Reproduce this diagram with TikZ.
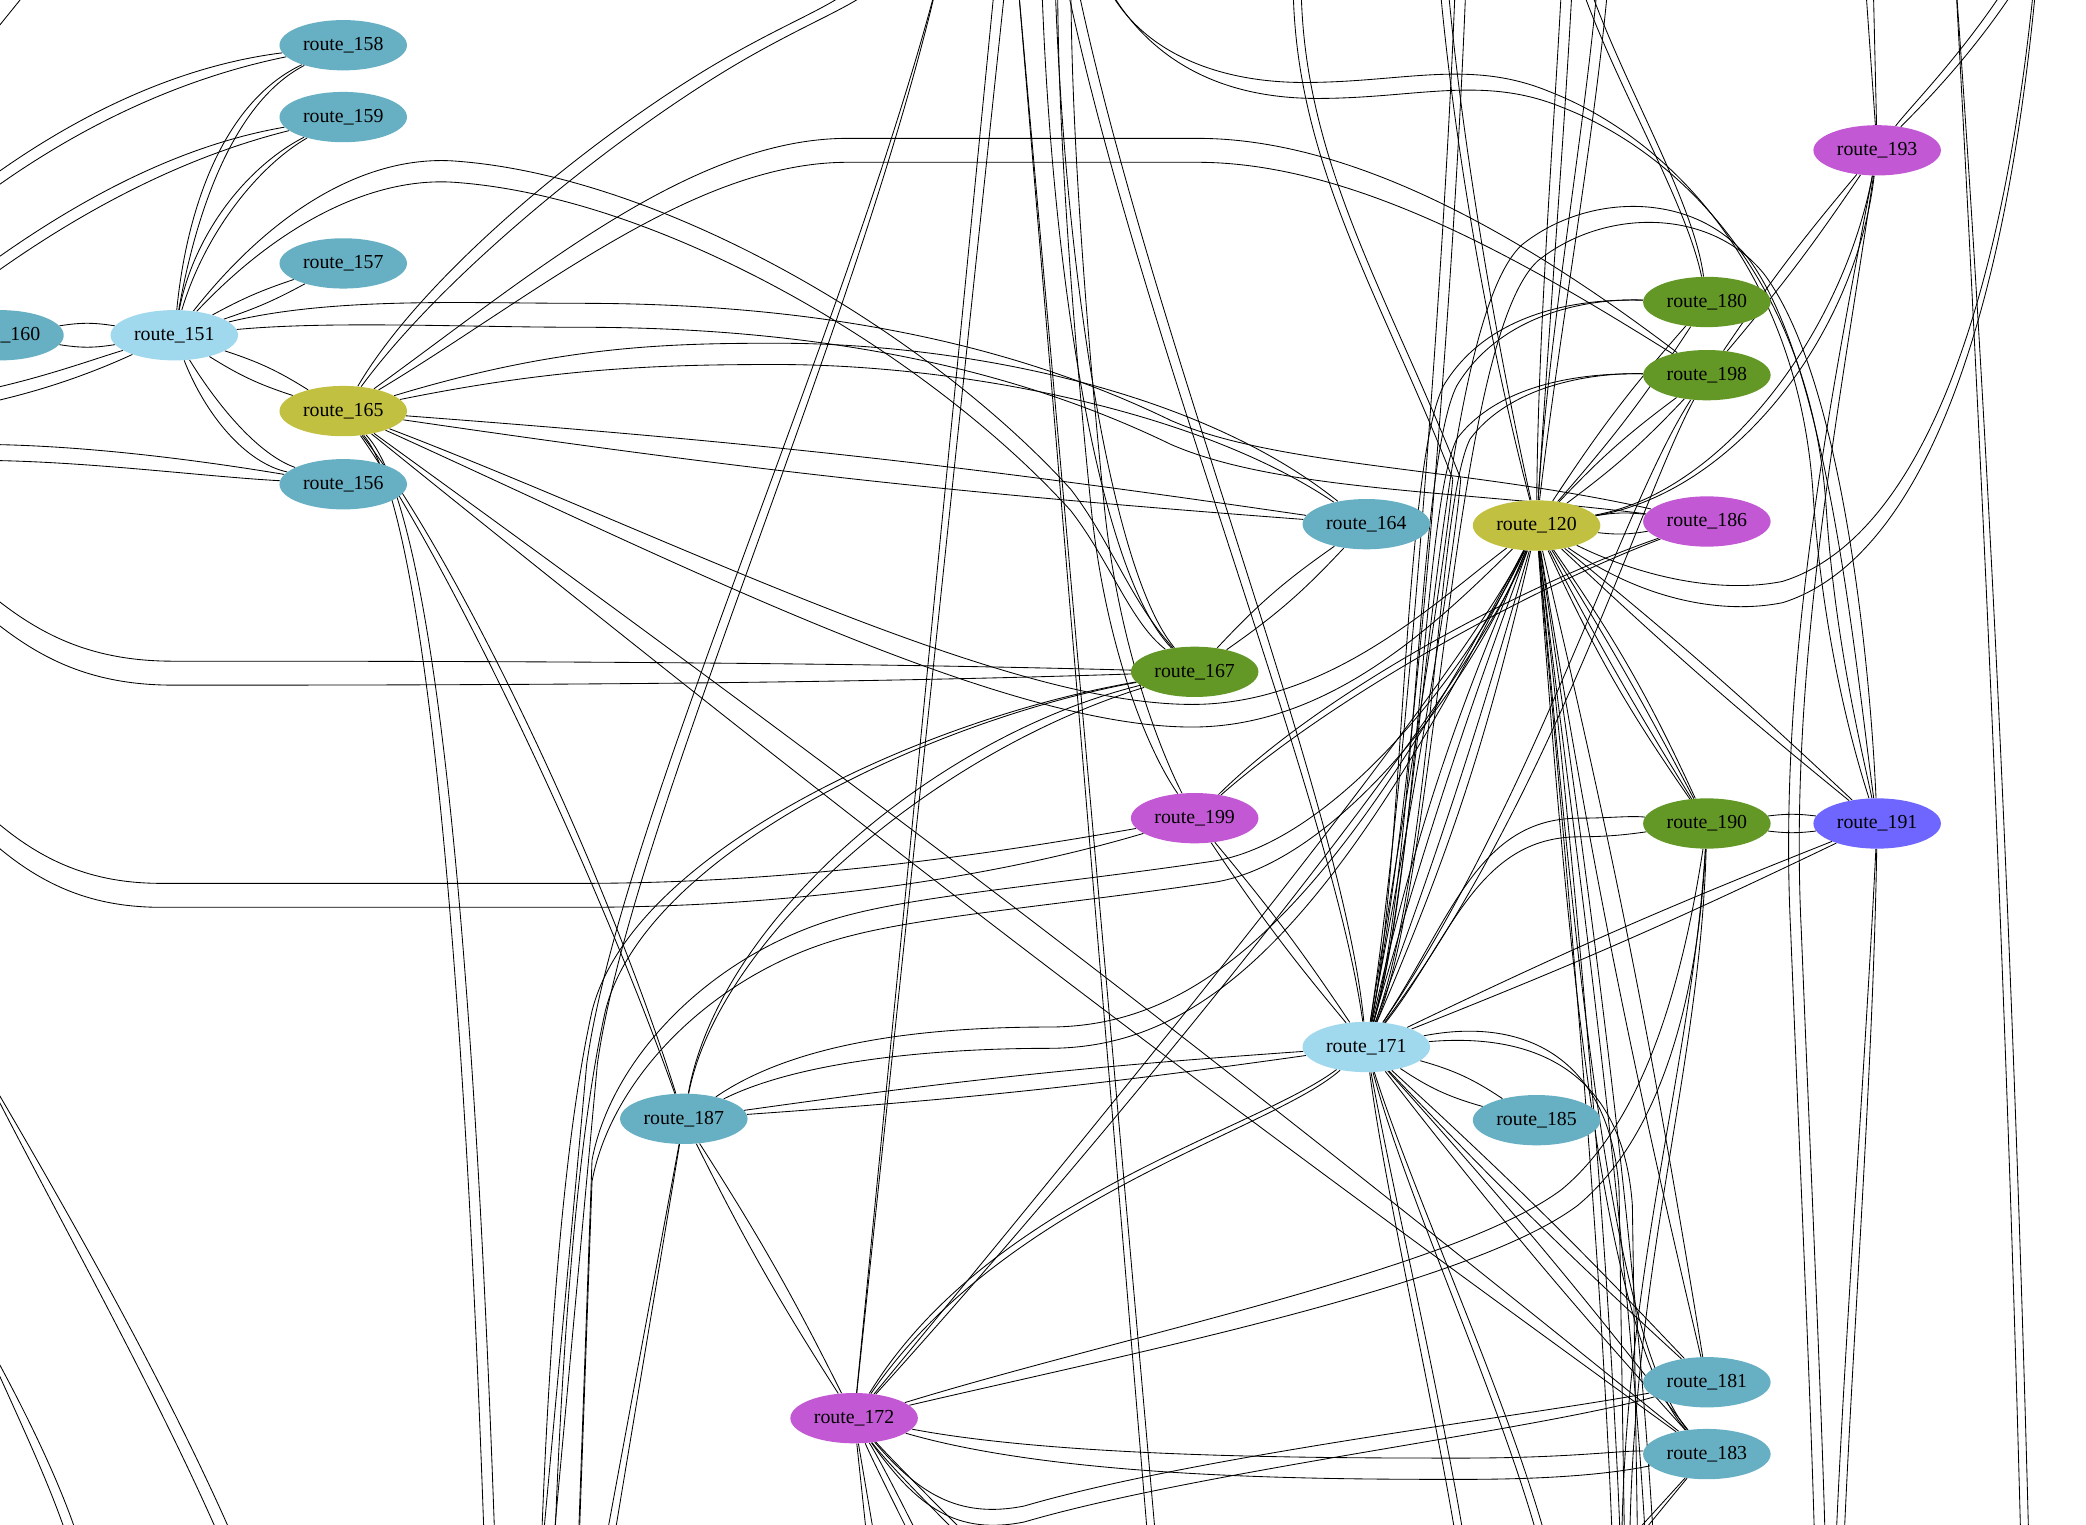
\documentclass[tikz,border=0pt]{standalone}
\usepackage{fontspec}
\setmainfont{Liberation Serif}
\usetikzlibrary{shapes.geometric,calc}
\definecolor{cteal}{RGB}{103,176,196}
\definecolor{clblue}{RGB}{160,216,238}
\definecolor{colive}{RGB}{193,192,64}
\definecolor{cgreen}{RGB}{99,152,38}
\definecolor{cmag}{RGB}{194,88,212}
\definecolor{cviol}{RGB}{110,102,255}
\pgfdeclarelayer{bg}
\pgfsetlayers{bg,main}
\newcommand\PairB[3]{\draw[ed] (#1) to[bend left=#3] (#2); \draw[ed] (#1) to[bend right=#3] (#2);}
\newcommand\PairT[3]{%
 \tikzset{oo/.style={shift={(#1,#2)}}}\draw[ed] #3;%
 \tikzset{oo/.style={shift={({-1*(#1)},{-1*(#2)})}}}\draw[ed] #3;}
\begin{document}
\begin{tikzpicture}[x=0.9392pt,y=-0.9392pt,
 nd/.style={ellipse,minimum width=90pt,minimum height=35.5pt,inner sep=0pt,font=\fontsize{14pt}{16pt}\selectfont},
 ed/.style={line width=0.6pt,black}]
\useasboundingbox (0,0) rectangle (1568,1146);
% nodes
\node[nd,fill=cteal] (n158) at (258,34) {route\_158};
\node[nd,fill=cteal] (n159) at (258,88) {route\_159};
\node[nd,fill=cteal] (n157) at (258,198) {route\_157};
\node[nd,fill=cteal] (n160) at (0,252) {route\_160};
\node[nd,fill=clblue] (n151) at (131,252) {route\_151};
\node[nd,fill=colive] (n165) at (258,309) {route\_165};
\node[nd,fill=cteal] (n156) at (258,364) {route\_156};
\node[nd,fill=cteal] (n164) at (1027,394) {route\_164};
\node[nd,fill=cgreen] (n167) at (898,505) {route\_167};
\node[nd,fill=cmag] (n199) at (898,615) {route\_199};
\node[nd,fill=colive] (n120) at (1155,395) {route\_120};
\node[nd,fill=cmag] (n186) at (1283,392) {route\_186};
\node[nd,fill=cgreen] (n180) at (1283,227) {route\_180};
\node[nd,fill=cgreen] (n198) at (1283,282) {route\_198};
\node[nd,fill=cmag] (n193) at (1411,113) {route\_193};
\node[nd,fill=cgreen] (n190) at (1283,619) {route\_190};
\node[nd,fill=cviol] (n191) at (1411,619) {route\_191};
\node[nd,fill=clblue] (n171) at (1027,787) {route\_171};
\node[nd,fill=cteal] (n185) at (1155,842) {route\_185};
\node[nd,fill=cteal] (n187) at (514,841) {route\_187};
\node[nd,fill=cmag] (n172) at (642,1066) {route\_172};
\node[nd,fill=cteal] (n181) at (1283,1039) {route\_181};
\node[nd,fill=cteal] (n183) at (1283,1093) {route\_183};
\begin{pgfonlayer}{bg}
\fill[white] (0,0) rectangle (1568,1146);
\clip (0,0) rectangle (1568,1146);
% left cluster
\PairT{0}{5}{(n158) .. controls ([oo]130,55) and ([oo]50,95) .. ([oo]-20,148)}
\PairT{0}{5}{(n159) .. controls ([oo]130,115) and ([oo]50,160) .. ([oo]-20,212)}
\PairT{4}{0}{(n151) .. controls ([oo]145,150) and ([oo]175,75) .. (n158)}
\PairT{4}{0}{(n151) .. controls ([oo]150,175) and ([oo]190,125) .. (n159)}
\PairB{n151}{n157}{5}
\PairB{n151}{n160}{9}
\PairT{0}{5}{(n151) .. controls ([oo]70,275) and ([oo]30,290) .. ([oo]-20,300)}
\PairB{n151}{n165}{7}
\PairT{5}{-3}{(n151) .. controls ([oo]160,310) and ([oo]190,345) .. (n156)}
\PairT{0}{6}{(n156) .. controls ([oo]150,352) and ([oo]60,340) .. ([oo]-20,340)}
\coordinate (tl1) at (-10,31); \coordinate (tl2) at (28,-16);
\draw[ed] (tl1) -- (tl2);
\PairT{5}{0}{(-20,790) .. controls ([oo]40,900) and ([oo]120,1040) .. ([oo]172,1160)}
\PairT{4}{0}{(-20,990) .. controls ([oo]10,1050) and ([oo]40,1110) .. ([oo]56,1160)}
% 151 long curves
\PairT{0}{8}{(n151) .. controls ([oo]210,160) and ([oo]280,125) .. ([oo]341,129) .. controls ([oo]500,140) and ([oo]700,260) .. ([oo]805,376) .. controls ([oo]835,415) and ([oo]850,460) .. (n167)}
\PairT{0}{9}{(n151) .. controls ([oo]250,232) and ([oo]350,237) .. ([oo]436,237) .. controls ([oo]600,237) and ([oo]750,262) .. ([oo]880,325) .. controls ([oo]960,360) and ([oo]1100,360) .. (n186)}
% 165
\PairT{8}{0}{(n165) .. controls ([oo]330,200) and ([oo]470,90) .. ([oo]560,40) .. controls ([oo]610,12) and ([oo]640,2) .. ([oo]655,-15)}
\PairT{0}{9}{(n165) .. controls ([oo]400,215) and ([oo]520,113) .. ([oo]637,113) -- ([oo]900,113) .. controls ([oo]1020,113) and ([oo]1150,190) .. (n198)}
\PairB{n165}{n164}{2}
\PairT{0}{8}{(n165) .. controls ([oo]420,268) and ([oo]500,266) .. ([oo]584,266) .. controls ([oo]720,266) and ([oo]900,300) .. (n164)}
\PairT{0}{8.5}{(n165) .. controls ([oo]500,410) and ([oo]750,538) .. ([oo]896,538) .. controls ([oo]1000,538) and ([oo]1080,460) .. (n120)}
\PairT{4}{0}{(n165) .. controls ([oo]322,380) and ([oo]352,700) .. ([oo]368,1160)}
\PairT{4}{0}{(n165) .. controls ([oo]340,420) and ([oo]450,650) .. (n187)}
\PairB{n165}{n183}{1.5}
% 167
\PairT{0}{9}{(n167) .. controls ([oo]600,506) and ([oo]300,506) .. ([oo]130,506) .. controls ([oo]60,506) and ([oo]20,480) .. ([oo]-20,445)}
\PairB{n167}{n164}{6}
\PairT{5}{0}{(n167) .. controls ([oo]830,430) and ([oo]795,200) .. ([oo]788,-15)}
\PairT{5}{0}{(n167) .. controls ([oo]700,540) and ([oo]480,640) .. ([oo]450,760) .. controls ([oo]430,850) and ([oo]418,1000) .. ([oo]412,1160)}
% 199
\PairT{0}{9}{(n199) .. controls ([oo]750,650) and ([oo]600,673) .. ([oo]437,673) -- ([oo]121,673) .. controls ([oo]60,673) and ([oo]20,650) .. ([oo]-20,611)}
\PairT{5}{0}{(n199) .. controls ([oo]865,560) and ([oo]835,480) .. ([oo]825,380) .. controls ([oo]812,250) and ([oo]800,100) .. ([oo]800,-15)}
\PairT{6}{0}{(n199) .. controls ([oo]1000,520) and ([oo]1150,440) .. (n186)}
\PairB{n199}{n171}{3}
% 120 hub
\PairB{n120}{n186}{8}
\PairB{n120}{n198}{5}
\PairB{n120}{n180}{4}
\PairT{5}{0}{(n120) .. controls ([oo]1300,370) and ([oo]1390,250) .. (n193)}
\PairB{n120}{n190}{2}
\PairB{n120}{n190}{5}
\PairB{n120}{n191}{2}
\PairB{n120}{n171}{2}
\PairB{n120}{n171}{5}
\PairT{4}{0}{(n120) .. controls ([oo]1160,250) and ([oo]1172,100) .. ([oo]1178,-15)}
\PairT{4}{0}{(n120) .. controls ([oo]1168,250) and ([oo]1195,100) .. ([oo]1205,-15)}
\PairT{3}{0}{(n120) .. controls ([oo]1120,250) and ([oo]1095,100) .. ([oo]1085,-15)}
\PairT{3}{0}{(n120) .. controls ([oo]1175,600) and ([oo]1205,900) .. ([oo]1215,1160)}
\PairT{3}{0}{(n120) .. controls ([oo]1182,600) and ([oo]1225,900) .. ([oo]1240,1160)}
\PairB{n120}{n181}{2}
\PairT{3}{0}{(n120) .. controls ([oo]1180,700) and ([oo]1205,1000) .. (n183)}
\PairT{0}{8}{(n120) .. controls ([oo]1230,440) and ([oo]1290,455) .. ([oo]1340,445) .. controls ([oo]1420,420) and ([oo]1500,300) .. ([oo]1530,-15)}
\PairT{8}{0}{(n120) .. controls ([oo]1100,520) and ([oo]820,860) .. (n172)}
\PairT{0}{8}{(n120) .. controls ([oo]1100,520) and ([oo]1000,640) .. ([oo]914,655) .. controls ([oo]800,672) and ([oo]700,680) .. ([oo]641,695) .. controls ([oo]540,720) and ([oo]460,800) .. ([oo]445,880) -- ([oo]435,1160)}
% 171
\PairB{n171}{n185}{9}
\PairB{n171}{n187}{2}
\PairT{0}{8}{(n187) .. controls ([oo]600,790) and ([oo]700,780) .. ([oo]788,780) .. controls ([oo]900,780) and ([oo]1000,700) .. (n120)}
\PairT{5}{0}{(n171) .. controls ([oo]1060,650) and ([oo]1060,350) .. ([oo]1090,290) .. controls ([oo]1120,240) and ([oo]1180,224) .. (n180)}
\PairT{5}{0}{(n171) .. controls ([oo]1072,650) and ([oo]1075,380) .. ([oo]1100,330) .. controls ([oo]1130,290) and ([oo]1190,280) .. (n198)}
\PairT{4}{0}{(n171) .. controls ([oo]1060,600) and ([oo]1090,200) .. ([oo]1098,-15)}
\PairT{3}{0}{(n171) .. controls ([oo]1060,600) and ([oo]1090,420) .. ([oo]1095,360) .. controls ([oo]1040,220) and ([oo]975,120) .. ([oo]975,-15)}
\PairT{6}{6}{(n171) .. controls ([oo]1075,650) and ([oo]1085,250) .. ([oo]1150,190) .. controls ([oo]1200,150) and ([oo]1280,150) .. ([oo]1320,200) .. controls ([oo]1380,280) and ([oo]1400,500) .. (n191)}
\PairT{0}{7}{(n171) .. controls ([oo]1090,700) and ([oo]1110,622) .. ([oo]1187,622) .. controls ([oo]1210,622) and ([oo]1225,620) .. (n190)}
\PairB{n171}{n191}{2}
\PairB{n171}{n181}{2}
\PairB{n171}{n183}{2}
\PairT{3}{0}{(n171) .. controls ([oo]1045,900) and ([oo]1080,1050) .. ([oo]1098,1160)}
\PairT{3}{0}{(n171) .. controls ([oo]1060,900) and ([oo]1130,1050) .. ([oo]1160,1160)}
\PairT{5}{6}{(n171) .. controls ([oo]1150,770) and ([oo]1215,800) .. ([oo]1222,900) -- ([oo]1226,1160)}
\PairT{4}{0}{(n171) .. controls ([oo]1005,600) and ([oo]860,250) .. ([oo]805,-15)}
\PairT{6}{0}{(n172) .. controls ([oo]750,900) and ([oo]950,850) .. (n171)}
% 172
\PairB{n172}{n187}{3}
\PairT{4}{0}{(n172) -- ([oo]752,-15)}
\PairT{0}{8}{(n172) .. controls ([oo]800,1104) and ([oo]1000,1104) .. ([oo]1100,1104) .. controls ([oo]1180,1104) and ([oo]1220,1098) .. (n183)}
\PairT{0}{6}{(n172) .. controls ([oo]690,1128) and ([oo]720,1148) .. ([oo]770,1138) .. controls ([oo]900,1100) and ([oo]1150,1070) .. (n181)}
\PairT{6}{6}{(n172) .. controls ([oo]850,1010) and ([oo]1100,960) .. ([oo]1180,900) .. controls ([oo]1240,850) and ([oo]1270,750) .. (n190)}
\PairT{3}{0}{(n172) -- ([oo]655,1160)}
\PairT{3}{0}{(n172) .. controls ([oo]660,1100) and ([oo]680,1140) .. ([oo]690,1160)}
\PairT{3}{0}{(n172) .. controls ([oo]670,1100) and ([oo]710,1140) .. ([oo]730,1160)}
% 187
\PairT{3}{0}{(n187) -- ([oo]458,1160)}
\PairT{0}{6}{(n187) .. controls ([oo]540,700) and ([oo]700,560) .. (n167)}
% right side
\PairB{n190}{n191}{7}
\PairT{3}{0}{(n190) .. controls ([oo]1275,800) and ([oo]1225,950) .. ([oo]1222,1160)}
\PairT{3}{0}{(n191) .. controls ([oo]1405,800) and ([oo]1390,1000) .. ([oo]1383,1160)}
\PairT{5}{6}{(830,-15) .. controls ([oo]860,45) and ([oo]920,68) .. ([oo]985,68) .. controls ([oo]1060,68) and ([oo]1110,50) .. ([oo]1170,75) .. controls ([oo]1260,110) and ([oo]1358,210) .. ([oo]1368,380) .. controls ([oo]1375,480) and ([oo]1395,560) .. (n191)}
\PairT{3}{0}{(n193) -- ([oo]1405,-15)}
\PairT{4}{0}{(n193) .. controls ([oo]1440,80) and ([oo]1480,40) .. ([oo]1515,-15)}
\PairT{4}{0}{(n193) .. controls ([oo]1380,300) and ([oo]1340,500) .. ([oo]1350,700) .. controls ([oo]1358,900) and ([oo]1365,1050) .. ([oo]1368,1160)}
\PairB{n193}{n198}{3}
\PairT{3}{0}{(n180) .. controls ([oo]1270,150) and ([oo]1215,60) .. ([oo]1190,-15)}
\PairT{6}{0}{(n198) .. controls ([oo]1225,380) and ([oo]1160,600) .. (n171)}
\PairT{3}{0}{(n183) -- ([oo]1225,1160)}
% free long lines
\PairT{3}{0}{(1470,-15) .. controls ([oo]1490,300) and ([oo]1510,700) .. ([oo]1522,1160)}
\PairT{3}{0}{(765,-15) -- ([oo]866,1160)}
\PairT{4}{0}{(705,-15) .. controls ([oo]640,250) and ([oo]470,620) .. ([oo]445,800) -- ([oo]412,1160)}
\end{pgfonlayer}
\end{tikzpicture}
\end{document}
